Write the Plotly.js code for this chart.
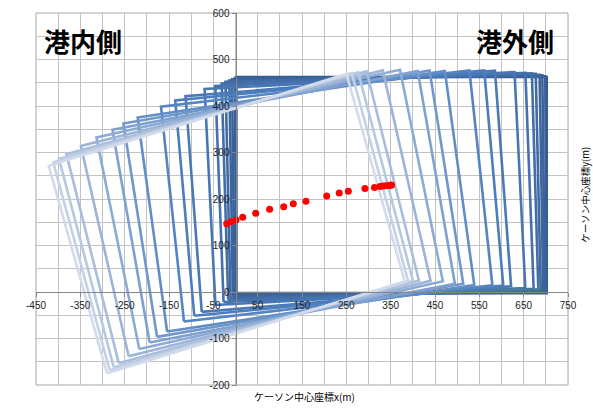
<!DOCTYPE html>
<html>
<head>
<meta charset="utf-8">
<script src="https://cdn.plot.ly/plotly-3.0.1.min.js"></script>
<style>html,body{margin:0;padding:0;background:#fff;}#chart{width:593px;height:408px;}</style>
</head>
<body>
<div id="chart"></div>
<script>
// Caisson centre coordinates (time order) and rotation angle (deg)
const centerX = [352, 350, 345, 340, 333, 326, 313.5, 292, 254.5, 234, 205.7, 159, 130.4, 108.7, 77, 45.6, 16.2, 1.1, -10.8, -19.8];
const centerY = [230, 229.5, 229, 228.5, 228, 227, 225, 222.6, 216.6, 212.9, 206.5, 195, 190, 183.4, 177.8, 169.2, 160.6, 155, 151, 147];
const angleDeg = [0, 0.3, 0.7, 1.0, 1.4, 1.8, 2.3, 3.0, 4.5, 5.3, 6.4, 8.2, 9.4, 10.4, 12.0, 13.4, 14.7, 15.4, 15.9, 16.4];
const caissonW = 700;
const caissonH = 465;
const xTickVals = [-450, -350, -250, -150, -50, 50, 150, 250, 350, 450, 550, 650, 750];
const yTickVals = [-200, -100, 0, 100, 200, 300, 400, 500, 600];

function hex2rgb(h){return [parseInt(h.slice(1,3),16),parseInt(h.slice(3,5),16),parseInt(h.slice(5,7),16)];}
function lerpColor(a,b,t){const A=hex2rgb(a),B=hex2rgb(b);return 'rgb('+A.map((v,i)=>Math.round(v+(B[i]-v)*t)).join(',')+')';}
function colorAt(i,n){
  const t=i/(n-1);
  const dark='#375b8e', mid='#4d7fc0', light='#d3dbea';
  if(t<0.5) return lerpColor(dark,mid,t/0.5);
  return lerpColor(mid,light,(t-0.5)/0.5);
}

const traces=[];
const n=centerX.length;
for(let i=0;i<n;i++){
  const th=angleDeg[i]*Math.PI/180, c=Math.cos(th), s=Math.sin(th);
  const pts=[[-1,-1],[1,-1],[1,1],[-1,1],[-1,-1]];
  const xs=[],ys=[];
  pts.forEach(p=>{const u=p[0]*caissonW/2,v=p[1]*caissonH/2;xs.push(centerX[i]+u*c-v*s);ys.push(centerY[i]+u*s+v*c);});
  traces.push({type:'scatter',mode:'lines',x:xs,y:ys,line:{color:colorAt(i,n),width:2.6},hoverinfo:'skip',showlegend:false});
}
traces.push({type:'scatter',mode:'markers',x:centerX,y:centerY,marker:{color:'#ff0000',size:7},showlegend:false});

const tickFont={family:'Liberation Sans, Arial, sans-serif',size:10,color:'#222'};
const layout={
  width:593,height:408,
  margin:{l:36,r:25,t:13,b:23},
  paper_bgcolor:'#fff',plot_bgcolor:'#fff',
  showlegend:false,
  xaxis:{range:[-450,750],tickvals:xTickVals,ticktext:xTickVals.map(String),showgrid:true,gridcolor:'#c3c3c3',gridwidth:1,
    minor:{dtick:50,tick0:0,showgrid:true,gridcolor:'#c3c3c3',gridwidth:1},
    zeroline:false,showline:true,linecolor:'#868686',linewidth:1,anchor:'free',position:0.25,
    ticks:'outside',ticklen:4,tickcolor:'#868686',tickfont:tickFont,fixedrange:true},
  yaxis:{range:[-200,600],tickvals:yTickVals,ticktext:yTickVals.map(String),showgrid:true,gridcolor:'#c3c3c3',gridwidth:1,
    minor:{dtick:50,tick0:0,showgrid:true,gridcolor:'#c3c3c3',gridwidth:1},
    zeroline:false,showline:true,linecolor:'#868686',linewidth:1,anchor:'free',position:0.375,
    ticks:'outside',ticklen:4,tickcolor:'#868686',tickfont:tickFont,fixedrange:true},
  shapes:[{type:'rect',xref:'paper',yref:'paper',x0:0,x1:1,y0:0,y1:1,line:{color:'#a6a6a6',width:1},layer:'below'}],
  annotations:[
    {text:'<b>港内側</b>',xref:'paper',yref:'paper',x:0.011,y:0.927,xanchor:'left',yanchor:'middle',showarrow:false,
     font:{family:'Noto Sans CJK JP',size:26,color:'#000'}},
    {text:'<b>港外側</b>',xref:'paper',yref:'paper',x:0.977,y:0.927,xanchor:'right',yanchor:'middle',showarrow:false,
     font:{family:'Noto Sans CJK JP',size:26,color:'#000'}},
    {text:'ケーソン中心座標x(m)',xref:'paper',yref:'paper',x:0.505,y:-0.032,xanchor:'center',yanchor:'middle',showarrow:false,
     font:{family:'Noto Sans CJK JP',size:10,color:'#000'}},
    {text:'ケーソン中心座標y(m)',xref:'paper',yref:'paper',x:1.033,y:0.51,xanchor:'center',yanchor:'middle',textangle:-90,showarrow:false,
     font:{family:'Noto Sans CJK JP',size:9.5,color:'#000'}}
  ]
};
Plotly.newPlot('chart',traces,layout,{displayModeBar:false,staticPlot:true});
</script>
</body>
</html>
